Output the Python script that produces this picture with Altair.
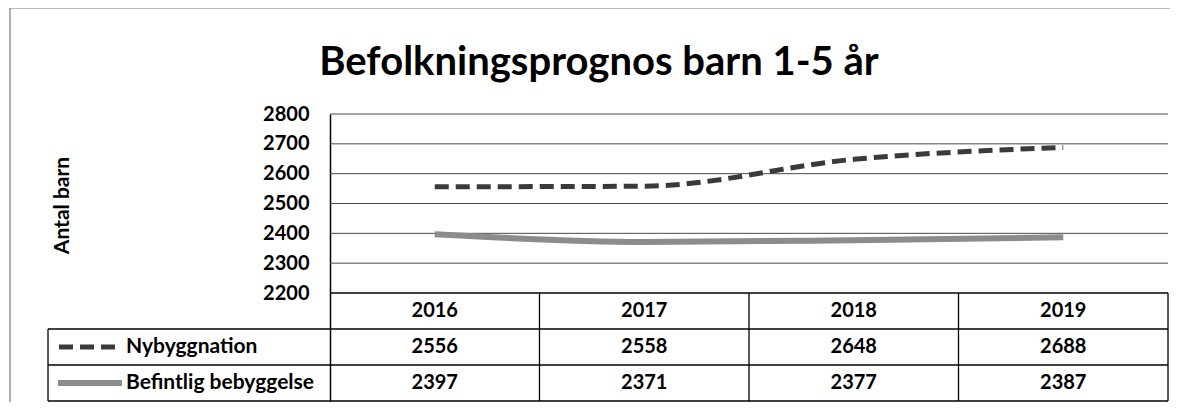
import altair as alt
import pandas as pd

# ---------------- data ----------------
years = ["2016", "2017", "2018", "2019"]
nybyggnation = [2556, 2558, 2648, 2688]
befintlig = [2397, 2371, 2377, 2387]
series_names = ["Nybyggnation", "Befintlig bebyggelse"]
y_ticks = [2200, 2300, 2400, 2500, 2600, 2700, 2800]
title_text = "Befolkningsprognos barn 1-5 år"
y_title = "Antal barn"

# ---------------- layout constants ----------------
FONT = "Lato"
LEGEND_W = 282              # legend column width in px
W = 1120                    # plot area width (legend column + table)
COL_W = (W - LEGEND_W) / 4  # width of one year column in px
CHART_PX = 179              # 2800 -> 2200
ROW_PX = 36                 # table row height
H = CHART_PX + 3 * ROW_PX
PAD_L, PAD_T = 40, 106
Y_TOP = y_ticks[-1]
PX_PER_UNIT = CHART_PX / (y_ticks[-1] - y_ticks[0])
y_lo = Y_TOP - H / PX_PER_UNIT
row_u = ROW_PX / PX_PER_UNIT
x_lo = -LEGEND_W / COL_W
n = len(years)


def px2x(px):
    return x_lo + px / COL_W


def px2y(px):
    return Y_TOP - px / PX_PER_UNIT


xs = alt.Scale(domain=[x_lo, n], nice=False, zero=False)
ys = alt.Scale(domain=[y_lo, Y_TOP], nice=False, zero=False)

table_top = y_ticks[0]
row_centers = [table_top - row_u * (k + 0.5) for k in range(3)]
row_edges = [table_top - row_u * k for k in range(4)]

# ---------------- data frames ----------------
ny_df = pd.DataFrame({"x": [i + 0.5 for i in range(n)], "v": nybyggnation})
be_df = pd.DataFrame({"x": [i + 0.5 for i in range(n)], "v": befintlig})
grid_df = pd.DataFrame({"v": y_ticks[1:], "x": [0.0] * 6, "x2": [float(n)] * 6})

cells = []
for i, yr in enumerate(years):
    cells.append({"x": i + 0.5, "y": row_centers[0], "t": yr})
    cells.append({"x": i + 0.5, "y": row_centers[1], "t": str(nybyggnation[i])})
    cells.append({"x": i + 0.5, "y": row_centers[2], "t": str(befintlig[i])})
cell_df = pd.DataFrame(cells)

leg_df = pd.DataFrame({"x": [px2x(78)] * 2, "y": row_centers[1:], "t": series_names})

hlines = [{"x": 0.0, "x2": float(n), "y": row_edges[0]}]
for e in row_edges[1:]:
    hlines.append({"x": x_lo, "x2": float(n), "y": e})
hline_df = pd.DataFrame(hlines)

vlines = [{"x": float(i), "y": y_lo, "y2": table_top} for i in range(1, n + 1)]
vlines.append({"x": x_lo, "y": y_lo, "y2": row_edges[1]})
vline_df = pd.DataFrame(vlines)

sw_ny_df = pd.DataFrame({"x": [px2x(11)], "x2": [px2x(69)], "y": [row_centers[1]]})
sw_be_df = pd.DataFrame({"x": [px2x(10)], "x2": [px2x(74)], "y": [row_centers[2]]})

# outer chart-area frame (left and top edges, as in the scanned original)
frame_h = pd.DataFrame({"x": [px2x(-38)], "x2": [px2x(1122)], "y": [px2y(-106)]})
frame_v = pd.DataFrame({"x": [px2x(-38)], "y": [px2y(-106)], "y2": [px2y(H + 1)]})

yaxis = alt.Axis(
    values=y_ticks, format="d", offset=-LEGEND_W, grid=False, ticks=False,
    domain=True, domainColor="black", domainWidth=1.5,
    labelFont=FONT, labelFontWeight="bold", labelFontSize=20, labelColor="black",
    labelPadding=21,
    title=y_title, titleFont=FONT, titleFontSize=21, titleFontWeight="bold",
    titleColor="black", titleAngle=270, titleX=62 - (48 + LEGEND_W), titleY=91,
    titleAlign="center", titleBaseline="middle",
)


def X(f):
    return alt.X(f, scale=xs, axis=None)


def Y(f):
    return alt.Y(f, scale=ys, axis=yaxis, title=y_title)


frame_top = alt.Chart(frame_h).mark_rule(color="#7a7a7a", strokeWidth=1).encode(
    x=X("x:Q"), x2="x2:Q", y=Y("y:Q")
)
frame_left = alt.Chart(frame_v).mark_rule(color="#7a7a7a", strokeWidth=1.2).encode(
    x=X("x:Q"), y=Y("y:Q"), y2="y2:Q"
)

grid = alt.Chart(grid_df).mark_rule(color="#4a4a4a", strokeWidth=1).encode(
    y=Y("v:Q"), x=X("x:Q"), x2="x2:Q"
)

hrules = alt.Chart(hline_df).mark_rule(color="black", strokeWidth=1.3).encode(
    x=X("x:Q"), x2="x2:Q", y=Y("y:Q")
)
vrules = alt.Chart(vline_df).mark_rule(color="black", strokeWidth=1.3).encode(
    x=X("x:Q"), y=Y("y:Q"), y2="y2:Q"
)

ny_line = alt.Chart(ny_df).mark_line(
    color="#3a3a3a", strokeWidth=5, strokeDash=[14, 7], interpolate="monotone"
).encode(x=X("x:Q"), y=Y("v:Q"))

be_line = alt.Chart(be_df).mark_line(
    color="#8c8c8c", strokeWidth=6, interpolate="monotone"
).encode(x=X("x:Q"), y=Y("v:Q"))

cell_text = alt.Chart(cell_df).mark_text(
    font=FONT, fontSize=20, fontWeight="bold", color="black", align="center", baseline="middle"
).encode(x=X("x:Q"), y=Y("y:Q"), text="t:N")

leg_text = alt.Chart(leg_df).mark_text(
    font=FONT, fontSize=21, fontWeight="bold", color="black", align="left", baseline="middle"
).encode(x=X("x:Q"), y=Y("y:Q"), text="t:N")

sw_ny = alt.Chart(sw_ny_df).mark_rule(
    color="#3a3a3a", strokeWidth=5, strokeDash=[14, 7]
).encode(x=X("x:Q"), x2="x2:Q", y=Y("y:Q"))

sw_be = alt.Chart(sw_be_df).mark_rule(
    color="#8c8c8c", strokeWidth=6
).encode(x=X("x:Q"), x2="x2:Q", y=Y("y:Q"))

chart = alt.layer(
    frame_top, frame_left, grid, hrules, vrules, be_line, ny_line,
    cell_text, leg_text, sw_ny, sw_be
).properties(
    width=W, height=H,
    title=alt.TitleParams(title_text, font=FONT, fontSize=40, fontWeight="bold",
                          color="black", anchor="middle", dx=-9, offset=-108,
                          baseline="alphabetic"),
    padding={"left": PAD_L, "top": PAD_T, "right": 4, "bottom": 2},
    autosize=alt.AutoSizeParams(type="none"),
).configure_view(stroke=None)

chart.save("out.html", embed_options={"renderer": "svg", "actions": False})
